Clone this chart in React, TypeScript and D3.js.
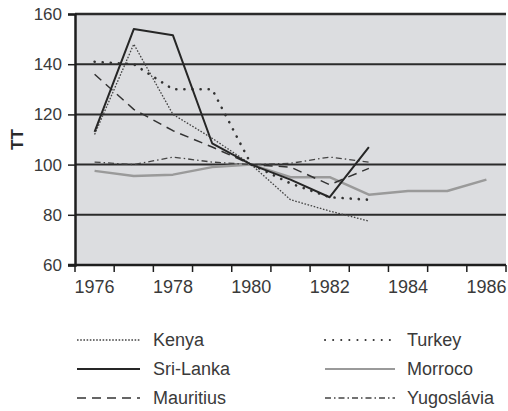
import { useEffect, useRef } from 'react';
import * as d3 from 'd3';

// years on the category axis
const years = [1976, 1977, 1978, 1979, 1980, 1981, 1982, 1983, 1984, 1985, 1986];
const yearLabels = ['1976', '', '1978', '', '1980', '', '1982', '', '1984', '', '1986'];
const yTicks = [60, 80, 100, 120, 140, 160];

// index values (1980 = 100), null where no data
const kenya = [112, 148, 120, 110.5, 100, 86, 81.5, 77.5, null, null, null];
const sriLanka = [113, 154, 151.5, 108.5, 100, 94, 87, 107, null, null, null];
const mauritius = [136, 122, 113.5, 107, 100, 99, 92, 98.5, null, null, null];
const turkey = [141, 140, 130, 130, 100, 92.5, 87, 86, null, null, null];
const morroco = [97.5, 95.5, 96, 99, 100, 95, 95, 88, 89.5, 89.5, 94];
const yugoslavia = [101, 100, 103, 101, 100, 100.5, 103, 101, null, null, null];

type Style = { color: string; width: number; dash: string | null; cap: string };

const series: { name: string; values: (number | null)[]; style: Style }[] = [
  { name: 'Morroco', values: morroco, style: { color: '#9a9a9a', width: 2.5, dash: null, cap: 'butt' } },
  { name: 'Yugoslavia', values: yugoslavia, style: { color: '#444', width: 1.3, dash: '6,3,1.5,3', cap: 'butt' } },
  { name: 'Mauritius', values: mauritius, style: { color: '#333', width: 1.5, dash: '9,6', cap: 'butt' } },
  { name: 'Kenya', values: kenya, style: { color: '#444', width: 1.3, dash: '1.6,1.6', cap: 'butt' } },
  { name: 'Turkey', values: turkey, style: { color: '#333', width: 2.6, dash: '0.1,8', cap: 'round' } },
  { name: 'Sri-Lanka', values: sriLanka, style: { color: '#262626', width: 2, dash: null, cap: 'butt' } },
];

const legendLeft = ['Kenya', 'Sri-Lanka', 'Mauritius'];
const legendRight = ['Turkey', 'Morroco', 'Yugoslávia'];
const legendStyleKeys = [['Kenya', 'Sri-Lanka', 'Mauritius'], ['Turkey', 'Morroco', 'Yugoslavia']];

export default function App() {
  const svgRef = useRef<SVGSVGElement>(null);

  useEffect(() => {
    if (!svgRef.current) return;
    const svg = d3.select(svgRef.current);
    svg.selectAll('*').remove();

    const width = 508;
    const height = 411;
    const left = 75, right = 506, top = 14, bottom = 265;
    const font = 'Liberation Sans, Arial, sans-serif';
    const textColor = '#3a3a3a';

    svg.attr('width', width).attr('height', height);

    const x = d3.scaleBand<number>().domain(years).range([left, right]);
    const y = d3.scaleLinear().domain([60, 160]).range([bottom, top]);

    // plot background
    svg.append('rect')
      .attr('x', left).attr('y', top)
      .attr('width', right - left).attr('height', bottom - top)
      .attr('fill', '#dcdde0');

    // horizontal gridlines
    svg.append('g')
      .selectAll('line')
      .data(yTicks.filter((t) => t > 60))
      .join('line')
      .attr('x1', left).attr('x2', right)
      .attr('y1', (d) => y(d)).attr('y2', (d) => y(d))
      .attr('stroke', '#2b2b2b')
      .attr('stroke-width', (d) => (d === 160 ? 2.5 : 2));

    // y axis
    const yAxis = svg.append('g').attr('transform', `translate(${left},0)`)
      .call(d3.axisLeft(y).tickValues(yTicks).tickSize(7).tickPadding(6));
    yAxis.select('.domain').attr('stroke', '#1e1e1e').attr('stroke-width', 2.5);
    yAxis.selectAll('.tick line').attr('stroke', '#1e1e1e').attr('stroke-width', 1.5);
    yAxis.selectAll('.tick text')
      .attr('font-family', font).attr('font-size', 17).attr('fill', textColor);

    // x axis: ticks at category boundaries, labels at centres
    const xg = svg.append('g');
    xg.append('line')
      .attr('x1', left - 7).attr('x2', right)
      .attr('y1', bottom).attr('y2', bottom)
      .attr('stroke', '#1e1e1e').attr('stroke-width', 2.5);
    const bounds = years.map((yr) => x(yr)!).concat([right]);
    xg.selectAll('line.tk')
      .data(bounds)
      .join('line')
      .attr('class', 'tk')
      .attr('x1', (d) => d).attr('x2', (d) => d)
      .attr('y1', bottom).attr('y2', bottom + 7)
      .attr('stroke', '#1e1e1e').attr('stroke-width', 1.5);
    xg.selectAll('text')
      .data(years)
      .join('text')
      .attr('x', (d) => x(d)! + x.bandwidth() / 2)
      .attr('y', 293)
      .attr('text-anchor', 'middle')
      .attr('font-family', font).attr('font-size', 18).attr('fill', textColor)
      .text((d, i) => yearLabels[i]);

    // y title
    svg.append('text')
      .attr('transform', `translate(23,${(top + bottom) / 2}) rotate(-90)`)
      .attr('text-anchor', 'middle')
      .attr('font-family', font).attr('font-size', 17).attr('font-weight', 'bold')
      .attr('fill', '#2a2a2a')
      .text('TT');

    // series lines
    const line = d3.line<number | null>()
      .defined((d) => d != null)
      .x((d, i) => x(years[i])! + x.bandwidth() / 2)
      .y((d) => y(d as number));

    series.forEach((s) => {
      svg.append('path')
        .datum(s.values)
        .attr('fill', 'none')
        .attr('stroke', s.style.color)
        .attr('stroke-width', s.style.width)
        .attr('stroke-dasharray', s.style.dash)
        .attr('stroke-linecap', s.style.cap)
        .attr('stroke-linejoin', 'round')
        .attr('d', line);
    });

    // legend
    const styleOf = (name: string) => series.find((s) => s.name === name)!.style;
    const cols = [
      { names: legendLeft, x0: 77, x1: 140, tx: 153 },
      { names: legendRight, x0: 325, x1: 395, tx: 407 },
    ];
    const rowY = [340, 369, 398];
    cols.forEach((c, ci) => {
      c.names.forEach((name, ri) => {
        const st = styleOf(legendStyleKeys[ci][ri]);
        svg.append('line')
          .attr('x1', c.x0).attr('x2', c.x1)
          .attr('y1', rowY[ri]).attr('y2', rowY[ri])
          .attr('stroke', st.color)
          .attr('stroke-width', Math.min(st.width, 2))
          .attr('stroke-dasharray', st.dash)
          .attr('stroke-linecap', st.cap);
        svg.append('text')
          .attr('x', c.tx).attr('y', rowY[ri])
          .attr('dy', '0.35em')
          .attr('font-family', font).attr('font-size', 18).attr('fill', textColor)
          .text(name);
      });
    });
  }, []);

  return <svg ref={svgRef} style={{ position: 'absolute', left: 0, top: 0, display: 'block' }} />;
}
